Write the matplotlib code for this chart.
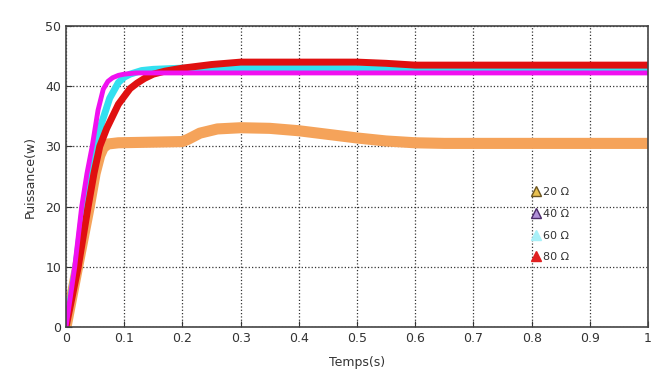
import matplotlib
matplotlib.use("Agg")
import matplotlib.pyplot as plt
from matplotlib.lines import Line2D

# 20 ohm
t20 = [0, 0.02, 0.04, 0.05, 0.058, 0.064, 0.072, 0.09, 0.2, 0.21, 0.23, 0.26, 0.3,
       0.35, 0.4, 0.45, 0.5, 0.55, 0.6, 0.65, 1.0]
p20 = [0, 10, 20, 25.5, 28.5, 29.8, 30.4, 30.6, 30.8, 31.2, 32.2, 32.9, 33.1,
       33.0, 32.6, 32.0, 31.4, 30.9, 30.6, 30.5, 30.5]
# 40 ohm
t40 = [0, 0.015, 0.027, 0.036, 0.045, 0.055, 0.064, 0.072, 0.08, 0.09, 0.1, 0.12, 0.15, 0.2, 1.0]
p40 = [0, 10, 20, 25.5, 30, 36, 39.5, 40.8, 41.4, 41.8, 42.0, 42.2, 42.2, 42.2, 42.2]
# 60 ohm
t60 = [0, 0.017, 0.03, 0.04, 0.05, 0.06, 0.075, 0.09, 0.1, 0.11, 0.13, 0.15, 0.2,
       0.3, 0.55, 0.6, 1.0]
p60 = [0, 10, 20, 25.5, 30, 33.5, 38, 40.6, 41.5, 42.0, 42.6, 42.8, 43,
       43, 42.9, 42.7, 42.7]
# 80 ohm
t80 = [0, 0.021, 0.038, 0.048, 0.058, 0.07, 0.08, 0.09, 0.1, 0.11, 0.122, 0.135,
       0.15, 0.17, 0.2, 0.25, 0.3, 0.5, 0.55, 0.6, 1.0]
p80 = [0, 10, 20, 25.5, 30, 33, 35, 37, 38.3, 39.6, 40.5, 41.3,
       42, 42.5, 43, 43.6, 44, 44, 43.8, 43.5, 43.5]

labels = ["20 \u03a9", "40 \u03a9", "60 \u03a9", "80 \u03a9"]
xticks = [0, 0.1, 0.2, 0.3, 0.4, 0.5, 0.6, 0.7, 0.8, 0.9, 1]
xticklabels = ["0", "0.1", "0.2", "0.3", "0.4", "0.5", "0.6", "0.7", "0.8", "0.9", "1"]
yticks = [0, 10, 20, 30, 40, 50]

fig = plt.figure(figsize=(6.62, 3.85), dpi=100)
ax = fig.add_axes([0.0997, 0.1506, 0.8793, 0.7819])

ax.plot(t20, p20, color="#f5a35a", lw=8, solid_capstyle="butt", solid_joinstyle="round")
ax.plot(t60, p60, color="#33e0f0", lw=5, solid_capstyle="butt", solid_joinstyle="round")
ax.plot(t80, p80, color="#e01010", lw=5, solid_capstyle="butt", solid_joinstyle="round")
ax.plot(t40, p40, color="#f010f0", lw=3.5, solid_capstyle="butt", solid_joinstyle="round")

ax.set_xlim(0, 1)
ax.set_ylim(0, 50)
ax.set_xticks(xticks)
ax.set_xticklabels(xticklabels)
ax.set_yticks(yticks)
ax.tick_params(direction="in", labelsize=9, colors="#333333", length=4)
ax.grid(True, linestyle=":", color="#333333", linewidth=0.9)
for s in ax.spines.values():
    s.set_color("#444444")
    s.set_linewidth(1.2)

ax.set_xlabel("Temps(s)", fontsize=9, color="#333333", labelpad=8)
ax.set_ylabel("Puissance(w)", fontsize=9, color="#333333", labelpad=6)

handles = [
    Line2D([], [], ls="none", marker="^", ms=7, mfc="#e8c050", mec="#6b5420"),
    Line2D([], [], ls="none", marker="^", ms=7, mfc="#b090d8", mec="#4a2a6a"),
    Line2D([], [], ls="none", marker="^", ms=7, mfc="#a8f0f8", mec="#a8f0f8"),
    Line2D([], [], ls="none", marker="^", ms=7, mfc="#e02020", mec="#e02020"),
]
ax.legend(handles, labels, loc="upper left", bbox_to_anchor=(0.787, 0.49),
          frameon=False, fontsize=8, handlelength=0.8, handletextpad=0.2,
          labelspacing=1.05, borderpad=0.2, labelcolor="#333333")

fig.savefig("out.png", dpi=100)
